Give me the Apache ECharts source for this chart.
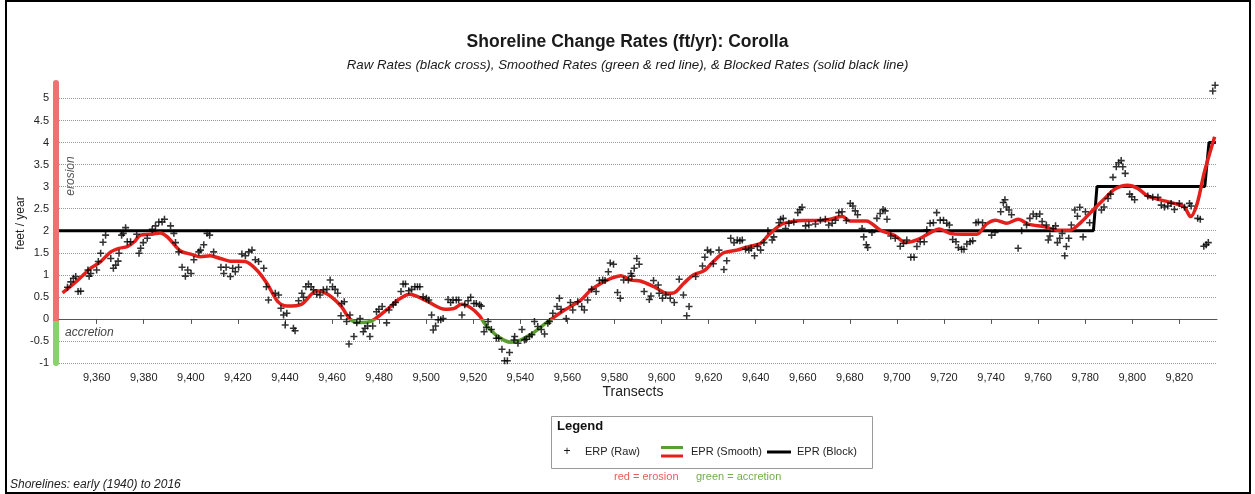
<!DOCTYPE html>
<html>
<head>
<meta charset="utf-8">
<title>Shoreline Change Rates (ft/yr): Corolla</title>
<script src="https://cdn.jsdelivr.net/npm/echarts@6/dist/echarts.min.js"></script>
<style>
  html, body { margin: 0; padding: 0; background: #fff; }
  #chart { width: 1255px; height: 494px; }
</style>
</head>
<body>
<div id="chart"></div>
<script>
"use strict";

// raw end point rates, one cross per transect
var rawTransects = [
  9347.6, 9349.0, 9350.1, 9351.1, 9352.1, 9353.2, 9356.3, 9356.8, 9357.5, 9360.0,
  9360.7, 9361.7, 9362.7, 9363.8, 9366.0, 9367.1, 9368.1, 9369.1, 9369.5, 9370.6,
  9371.3, 9372.3, 9373.0, 9374.4, 9377.0, 9378.0, 9378.7, 9379.8, 9381.5, 9383.6,
  9385.0, 9386.4, 9387.8, 9388.8, 9391.4, 9392.8, 9393.5, 9394.9, 9396.3, 9397.7,
  9398.7, 9400.1, 9401.3, 9403.4, 9404.1, 9405.5, 9406.9, 9408.0, 9409.7, 9412.8,
  9414.0, 9415.0, 9416.8, 9417.8, 9418.9, 9420.3, 9421.7, 9423.2, 9424.6, 9426.0,
  9427.4, 9428.8, 9431.0, 9432.1, 9433.0, 9435.9, 9437.3, 9438.3, 9439.4, 9440.1,
  9440.8, 9443.6, 9444.3, 9445.8, 9447.2, 9447.9, 9448.9, 9450.0, 9451.1, 9452.1,
  9453.5, 9454.9, 9456.3, 9457.8, 9459.2, 9460.2, 9461.3, 9462.4, 9463.8, 9464.1,
  9465.2, 9466.2, 9467.2, 9467.6, 9469.3, 9470.5, 9471.9, 9473.3, 9474.0, 9475.1,
  9476.1, 9477.3, 9478.9, 9479.9, 9481.3, 9483.2, 9484.2, 9486.0, 9487.0, 9489.3,
  9490.2, 9491.2, 9492.6, 9493.8, 9495.2, 9496.3, 9497.3, 9498.7, 9500.1, 9501.1,
  9502.3, 9503.0, 9504.0, 9505.1, 9506.2, 9507.2, 9509.3, 9510.4, 9511.4, 9512.8,
  9513.8, 9515.2, 9516.4, 9517.8, 9518.9, 9520.3, 9521.3, 9522.7, 9523.4, 9524.6,
  9525.6, 9526.3, 9527.7, 9529.8, 9530.8, 9532.2, 9533.3, 9534.5, 9535.4, 9537.3,
  9537.6, 9539.0, 9540.7, 9541.8, 9542.5, 9543.9, 9544.9, 9546.0, 9547.4, 9548.9,
  9550.3, 9551.7, 9552.4, 9553.8, 9555.6, 9556.6, 9557.3, 9559.5, 9561.3, 9562.3,
  9564.4, 9566.1, 9567.2, 9568.6, 9570.3, 9572.2, 9573.6, 9575.0, 9576.0, 9577.4,
  9578.2, 9579.6, 9581.3, 9582.5, 9583.9, 9585.9, 9587.0, 9587.4, 9588.4, 9589.5,
  9590.5, 9592.6, 9594.8, 9595.5, 9596.6, 9598.6, 9599.0, 9600.4, 9601.8, 9603.7,
  9605.4, 9607.5, 9609.3, 9610.7, 9611.7, 9614.5, 9617.4, 9618.4, 9619.5, 9620.9,
  9622.0, 9624.4, 9626.5, 9627.7, 9629.4, 9630.8, 9632.2, 9633.3, 9634.3, 9635.7,
  9637.1, 9638.1, 9639.5, 9640.7, 9642.1, 9643.5, 9645.2, 9647.0, 9647.7, 9649.9,
  9650.6, 9651.7, 9652.7, 9654.1, 9656.2, 9657.9, 9658.8, 9659.7, 9661.2, 9662.6,
  9665.4, 9667.5, 9669.6, 9671.0, 9672.5, 9673.9, 9675.3, 9676.7, 9678.5, 9680.2,
  9681.3, 9682.3, 9683.3, 9685.2, 9685.9, 9687.0, 9687.6, 9689.4, 9691.5, 9692.9,
  9694.1, 9695.0, 9695.8, 9697.4, 9699.3, 9701.4, 9702.8, 9704.2, 9705.9, 9707.3,
  9708.5, 9709.9, 9711.6, 9712.7, 9714.1, 9715.5, 9716.9, 9718.4, 9719.8, 9721.2,
  9722.3, 9723.7, 9725.1, 9726.1, 9727.5, 9728.5, 9729.7, 9731.1, 9732.2, 9733.6,
  9734.6, 9736.4, 9740.2, 9741.7, 9744.1, 9745.2, 9745.9, 9746.6, 9747.6, 9748.7,
  9751.5, 9753.0, 9755.1, 9756.5, 9757.9, 9759.3, 9760.7, 9761.7, 9763.5, 9764.3,
  9765.0, 9766.4, 9767.4, 9768.2, 9769.2, 9770.2, 9771.3, 9772.0, 9773.0, 9774.1,
  9775.6, 9776.7, 9777.7, 9779.1, 9780.1, 9781.9, 9786.9, 9788.0, 9789.7, 9790.8,
  9791.8, 9793.2, 9794.2, 9795.3, 9796.0, 9797.0, 9798.9, 9799.8, 9801.0, 9806.6,
  9808.7, 9810.9, 9812.3, 9813.7, 9815.1, 9816.5, 9817.9, 9820.0, 9822.2, 9824.3,
  9825.0, 9827.8, 9828.9, 9830.4, 9831.4, 9832.3, 9834.2, 9835.2
];
var rawRates = [
  0.72, 0.84, 0.92, 0.96, 0.62, 0.63, 1.11, 0.97, 1.03, 1.11,
  1.30, 1.49, 1.74, 1.90, 1.37, 1.15, 1.22, 1.31, 1.49, 1.90,
  1.94, 2.07, 1.75, 1.75, 1.92, 1.49, 1.60, 1.73, 1.83, 2.03,
  2.11, 2.20, 2.20, 2.26, 2.11, 1.94, 1.73, 1.52, 1.17, 0.97,
  1.11, 1.03, 1.34, 1.52, 1.56, 1.68, 1.94, 1.90, 1.52, 1.17,
  1.03, 1.17, 0.96, 1.15, 1.07, 1.17, 1.47, 1.43, 1.52, 1.56,
  1.34, 1.30, 1.15, 0.73, 0.43, 0.58, 0.54, 0.24, 0.09, -0.14,
  0.13, -0.21, -0.27, 0.41, 0.58, 0.49, 0.73, 0.79, 0.73, 0.66,
  0.56, 0.54, 0.66, 0.67, 0.88, 0.73, 0.67, 0.58, 0.07, 0.35,
  0.39, -0.06, -0.57, 0.09, -0.40, -0.09, 0.01, -0.29, -0.21, -0.16,
  -0.40, -0.16, 0.16, 0.22, 0.28, -0.09, 0.20, 0.32, 0.37, 0.62,
  0.79, 0.79, 0.64, 0.67, 0.73, 0.73, 0.73, 0.50, 0.47, 0.43,
  0.09, -0.25, -0.16, -0.02, -0.02, 0.01, 0.44, 0.37, 0.43, 0.43,
  0.43, 0.09, 0.32, 0.41, 0.49, 0.35, 0.35, 0.32, 0.29, -0.29,
  -0.19, -0.06, -0.24, -0.44, -0.44, -0.69, -0.95, -0.95, -0.76, -0.48,
  -0.40, -0.55, -0.24, -0.48, -0.46, -0.40, -0.36, -0.06, -0.17, -0.24,
  -0.34, -0.10, -0.06, 0.13, 0.28, 0.47, 0.22, 0.01, 0.37, 0.20,
  0.39, 0.28, 0.20, 0.43, 0.67, 0.62, 0.87, 0.88, 0.87, 1.07,
  1.27, 1.24, 0.60, 0.47, 0.88, 0.88, 1.03, 0.97, 1.15, 1.37,
  1.24, 0.62, 0.44, 0.52, 0.87, 0.77, 0.58, 0.47, 0.54, 0.47,
  0.37, 0.90, 0.54, 0.07, 0.28, 0.96, 1.20, 1.40, 1.56, 1.52,
  1.25, 1.56, 1.12, 1.32, 1.83, 1.73, 1.79, 1.77, 1.79, 1.58,
  1.56, 1.60, 1.43, 1.64, 1.56, 1.73, 2.00, 1.79, 1.86, 2.18,
  2.26, 2.28, 2.05, 2.17, 2.20, 2.41, 2.48, 2.53, 2.11, 2.13,
  2.15, 2.24, 2.26, 2.13, 2.17, 2.24, 2.41, 2.43, 2.23, 2.62,
  2.56, 2.45, 2.36, 2.05, 1.86, 1.68, 1.62, 1.96, 2.28, 2.39,
  2.48, 2.45, 2.26, 1.88, 1.83, 1.65, 1.71, 1.79, 1.40, 1.40,
  1.64, 1.75, 1.75, 2.02, 2.17, 2.18, 2.41, 2.24, 2.24, 2.17,
  2.13, 1.80, 1.75, 1.62, 1.58, 1.58, 1.70, 1.75, 1.77, 2.18,
  2.20, 2.18, 1.90, 1.96, 2.43, 2.64, 2.70, 2.54, 2.47, 2.36,
  1.60, 2.00, 2.13, 2.28, 2.38, 2.33, 2.38, 2.21, 2.13, 1.79,
  1.88, 2.05, 2.11, 1.73, 1.83, 1.94, 1.43, 1.64, 1.83, 2.13,
  2.47, 2.33, 2.53, 1.86, 2.43, 2.18, 2.47, 2.54, 2.73, 2.83,
  3.21, 3.45, 3.54, 3.59, 3.45, 3.30, 2.83, 2.77, 2.70, 2.79,
  2.76, 2.76, 2.58, 2.54, 2.56, 2.62, 2.48, 2.62, 2.53, 2.62,
  2.56, 2.28, 2.26, 1.65, 1.68, 1.73, 5.17, 5.30
];

// smoothed rates (red above 0, green below)
var smoothTransects = [
  9345.5, 9352.0, 9357.5, 9361.7, 9366.0, 9369.5, 9373.0, 9376.0, 9378.6, 9382.9,
  9387.0, 9390.0, 9395.6, 9400.0, 9404.0, 9408.3, 9412.5, 9416.7, 9423.0, 9428.0,
  9432.3, 9437.0, 9440.8, 9447.0, 9453.5, 9457.0, 9460.0, 9464.0, 9467.6, 9471.0,
  9475.4, 9478.0, 9484.0, 9488.0, 9493.0, 9496.6, 9500.8, 9508.0, 9512.0, 9515.0,
  9519.0, 9522.7, 9524.8, 9530.5, 9536.0, 9540.0, 9544.6, 9548.8, 9551.7, 9558.8,
  9565.8, 9570.0, 9574.4, 9578.5, 9582.8, 9587.0, 9591.0, 9596.8, 9602.5, 9605.3,
  9609.5, 9613.7, 9618.0, 9622.0, 9626.4, 9632.0, 9637.7, 9642.0, 9646.0, 9650.5,
  9654.7, 9660.5, 9667.5, 9671.7, 9676.7, 9680.0, 9687.0, 9693.0, 9698.7, 9704.0,
  9708.4, 9714.0, 9718.0, 9722.6, 9728.0, 9734.0, 9738.0, 9742.0, 9746.5, 9751.6,
  9755.8, 9762.8, 9768.5, 9773.4, 9778.4, 9782.6, 9788.3, 9792.5, 9798.0, 9802.3,
  9806.5, 9812.0, 9817.8, 9822.0, 9824.8, 9827.6, 9830.5, 9835.0
];
var smoothRates = [
  0.59, 0.88, 1.15, 1.30, 1.52, 1.60, 1.64, 1.75, 1.90, 1.92,
  1.95, 1.86, 1.54, 1.47, 1.41, 1.43, 1.37, 1.31, 1.30, 1.11,
  0.81, 0.39, 0.29, 0.33, 0.64, 0.59, 0.49, 0.28, 0.00, -0.08,
  -0.07, -0.01, 0.24, 0.43, 0.56, 0.50, 0.39, 0.22, 0.24, 0.33,
  0.25, 0.07, -0.10, -0.40, -0.53, -0.48, -0.35, -0.18, -0.06, 0.20,
  0.43, 0.66, 0.81, 0.92, 0.98, 0.88, 0.86, 0.73, 0.58, 0.59,
  0.81, 1.00, 1.09, 1.30, 1.50, 1.56, 1.65, 1.71, 1.93, 2.13,
  2.20, 2.23, 2.23, 2.26, 2.33, 2.22, 2.22, 2.01, 1.90, 1.73,
  1.79, 1.95, 2.04, 1.94, 1.92, 1.92, 2.15, 2.24, 2.17, 2.26,
  2.15, 2.09, 2.01, 2.01, 2.20, 2.43, 2.73, 2.94, 3.03, 2.96,
  2.79, 2.70, 2.62, 2.54, 2.32, 2.62, 3.30, 4.13
];

// blocked rates (step line)
var blockTransects = [9344, 9783.5, 9785, 9830.8, 9832.6, 9835.5];
var blockRates = [2, 2, 3, 3, 4, 4];

// axis ticks
var xTickValues = [
  9360, 9380, 9400, 9420, 9440, 9460, 9480, 9500, 9520, 9540, 9560, 9580,
  9600, 9620, 9640, 9660, 9680, 9700, 9720, 9740, 9760, 9780, 9800, 9820
];
var xMin = 9344, xMax = 9836;
var yMin = -1, yMax = 5.35;

var FONT = "'Liberation Sans', Arial, Helvetica, sans-serif";
var RED = "#e3201b";
var GREEN = "#5a9e2f";
var BAR_RED = "#ef7272";
var BAR_GREEN = "#88d16c";

// plus sign used for the raw crosses
var plusSymbol = "path://M3.9,0H6.1V3.9H10V6.1H6.1V10H3.9V6.1H0V3.9H3.9Z";

function pairs(xs, ys) {
  return xs.map(function (x, i) {
    return [x, ys[i]];
  });
}

function label(x, y, text, font, color, extra) {
  var el = {
    type: "text",
    x: x,
    y: y,
    silent: true,
    style: {
      text: text,
      font: font,
      fill: color || "#222",
      align: "left",
      textAlign: "left",
      verticalAlign: "middle",
      textVerticalAlign: "middle"
    }
  };
  if (extra) {
    Object.keys(extra).forEach(function (k) {
      if (k === "style") {
        Object.assign(el.style, extra.style);
      } else {
        el[k] = extra[k];
      }
    });
  }
  return el;
}

var zeroStop = yMax / (yMax - yMin);

var chart = echarts.init(document.getElementById("chart"));

chart.setOption({
  animation: false,
  backgroundColor: "#fff",
  textStyle: { fontFamily: FONT },
  title: [
    {
      text: "Shoreline Change Rates (ft/yr): Corolla",
      left: "center",
      top: 28,
      padding: [5, 0, 5, 10],
      textStyle: { fontFamily: FONT, fontSize: 17.5, fontWeight: "bold", color: "#1a1a1a" }
    },
    {
      text: "Raw Rates (black cross), Smoothed Rates (green & red line), & Blocked Rates (solid black line)",
      left: "center",
      top: 54,
      padding: [5, 0, 5, 10],
      textStyle: { fontFamily: FONT, fontSize: 13.3, fontStyle: "italic", fontWeight: "normal", color: "#1a1a1a" }
    }
  ],
  grid: { left: 59, right: 38, top: 83, bottom: 131 },
  xAxis: {
    type: "value",
    min: xMin,
    max: xMax,
    name: "Transects",
    nameLocation: "middle",
    nameGap: 22,
    nameMoveOverlap: false,
    nameTextStyle: { fontFamily: FONT, fontSize: 14, color: "#222", padding: [0, 10, 0, 0] },
    axisLine: { lineStyle: { color: "#555", width: 1 } },
    axisTick: { customValues: xTickValues, length: 5, lineStyle: { color: "#555" } },
    axisLabel: {
      customValues: xTickValues,
      margin: 9,
      fontSize: 11,
      color: "#222",
      formatter: function (v) {
        return v.toLocaleString("en-US");
      }
    },
    splitLine: { show: false }
  },
  yAxis: {
    type: "value",
    min: yMin,
    max: yMax,
    interval: 0.5,
    offset: 3,
    name: "feet / year",
    nameLocation: "middle",
    nameGap: 29,
    nameMoveOverlap: false,
    nameTextStyle: { fontFamily: FONT, fontSize: 12, color: "#222" },
    axisLine: {
      show: true,
      lineStyle: {
        width: 6,
        color: {
          type: "linear",
          x: 0, y: 0, x2: 0, y2: 1,
          colorStops: [
            { offset: 0, color: BAR_RED },
            { offset: zeroStop, color: BAR_RED },
            { offset: zeroStop, color: BAR_GREEN },
            { offset: 1, color: BAR_GREEN }
          ]
        }
      }
    },
    axisTick: { show: false },
    axisLabel: { showMaxLabel: false, margin: 7, fontSize: 11, color: "#222" },
    splitLine: { showMaxLine: false, lineStyle: { type: "dotted", color: "#9a9a9a", width: 1 } }
  },
  visualMap: {
    show: false,
    type: "piecewise",
    seriesIndex: 2,
    dimension: 1,
    pieces: [
      { gt: -10, lte: 0, color: GREEN },
      { gt: 0, lte: 10, color: RED }
    ],
    outOfRange: { color: RED }
  },
  series: [
    {
      name: "EPR (Block)",
      type: "line",
      data: pairs(blockTransects, blockRates),
      showSymbol: false,
      lineStyle: { color: "#000", width: 3 },
      z: 2
    },
    {
      name: "ERP (Raw)",
      type: "scatter",
      data: pairs(rawTransects, rawRates),
      symbol: plusSymbol,
      symbolSize: 7,
      itemStyle: { color: "#000" },
      z: 5
    },
    {
      name: "EPR (Smooth)",
      type: "line",
      data: pairs(smoothTransects, smoothRates),
      showSymbol: false,
      smooth: 0.3,
      lineStyle: { width: 3.5 },
      z: 3
    }
  ],
  graphic: [
    // outer frame
    {
      type: "rect",
      silent: true,
      shape: { x: 6, y: 1, width: 1244, height: 492 },
      style: { fill: null, stroke: "#000", lineWidth: 2 }
    },
    label(71, 176, "erosion", "italic 12px " + FONT, "#555", {
      rotation: Math.PI / 2,
      style: { align: "center", textAlign: "center" }
    }),
    label(65, 333, "accretion", "italic 12px " + FONT, "#444"),
    // legend box
    {
      type: "rect",
      silent: true,
      shape: { x: 551.5, y: 416.5, width: 321, height: 52 },
      style: { fill: "#fff", stroke: "#9a9a9a", lineWidth: 1 }
    },
    label(557, 426, "Legend", "bold 13px " + FONT, "#111"),
    label(567, 452, "+", "12px " + FONT, "#111", { style: { align: "center", textAlign: "center" } }),
    label(585, 452, "ERP (Raw)", "11px " + FONT, "#222"),
    { type: "rect", silent: true, shape: { x: 661, y: 446, width: 22, height: 3 }, style: { fill: GREEN } },
    { type: "rect", silent: true, shape: { x: 661, y: 454.5, width: 22, height: 3 }, style: { fill: RED } },
    label(691, 452, "EPR (Smooth)", "11px " + FONT, "#222"),
    { type: "rect", silent: true, shape: { x: 767, y: 450.5, width: 24, height: 3 }, style: { fill: "#000" } },
    label(797, 452, "EPR (Block)", "11px " + FONT, "#222"),
    label(614, 477, "red = erosion", "11px " + FONT, "#e85b5b"),
    label(696, 477, "green = accretion", "11px " + FONT, "#72ad4a"),
    label(10, 485, "Shorelines: early (1940) to 2016", "italic 12px " + FONT, "#222")
  ]
});

window.addEventListener("resize", function () {
  chart.resize();
});
</script>
</body>
</html>
